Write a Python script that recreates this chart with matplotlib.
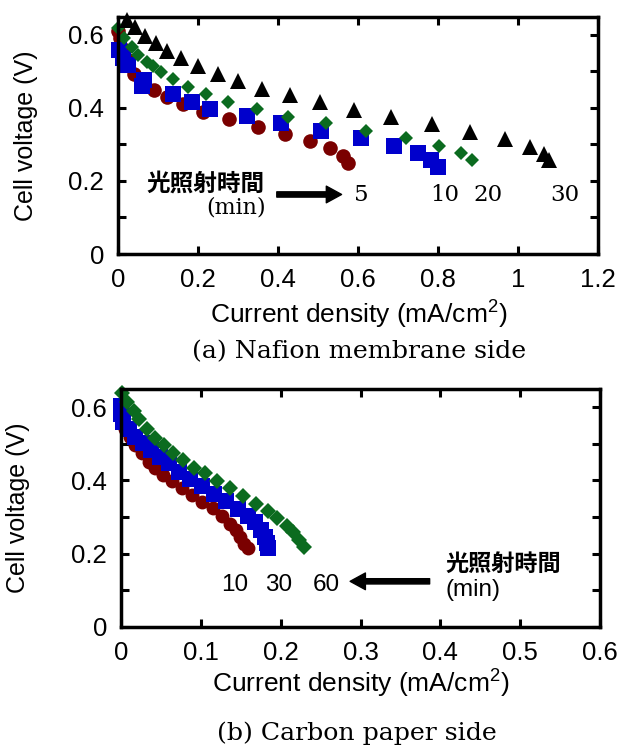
import matplotlib
matplotlib.use('Agg')
import matplotlib.pyplot as plt
from matplotlib.ticker import MultipleLocator, FuncFormatter

plt.rcParams['font.family'] = ['Liberation Sans', 'Noto Sans CJK JP', 'DejaVu Sans']
plt.rcParams['mathtext.fontset'] = 'custom'
plt.rcParams['mathtext.rm'] = 'Liberation Sans'

# (a) Nafion membrane side, irradiation time 5 / 10 / 20 / 30 min
a_x5 = [0.0, 0.004, 0.012, 0.025, 0.041, 0.065, 0.091, 0.122, 0.163, 0.213, 0.2775, 0.349, 0.4175, 0.48, 0.53, 0.562, 0.576]
a_v5 = [0.611, 0.590, 0.562, 0.530, 0.494, 0.468, 0.449, 0.429, 0.410, 0.389, 0.369, 0.348, 0.328, 0.309, 0.289, 0.268, 0.248]
a_x10 = [0.0025, 0.013, 0.026, 0.066, 0.059, 0.137, 0.186, 0.231, 0.322, 0.4075, 0.507, 0.607, 0.691, 0.751, 0.782, 0.801]
a_v10 = [0.558, 0.536, 0.517, 0.476, 0.460, 0.438, 0.417, 0.397, 0.378, 0.358, 0.337, 0.317, 0.296, 0.277, 0.257, 0.237]
a_x20 = [0.0, 0.016, 0.034, 0.051, 0.072, 0.088, 0.1075, 0.138, 0.174, 0.22, 0.274, 0.347, 0.424, 0.52, 0.62, 0.72, 0.8025, 0.8575, 0.886]
a_v20 = [0.618, 0.590, 0.567, 0.545, 0.526, 0.514, 0.499, 0.478, 0.456, 0.438, 0.417, 0.397, 0.376, 0.359, 0.337, 0.317, 0.296, 0.277, 0.257]
a_x30 = [0.022, 0.0425, 0.0675, 0.094, 0.122, 0.1575, 0.199, 0.249, 0.301, 0.359, 0.43, 0.505, 0.59, 0.6825, 0.784, 0.881, 0.968, 1.03, 1.065, 1.077]
a_v30 = [0.640, 0.620, 0.597, 0.577, 0.556, 0.536, 0.5145, 0.494, 0.474, 0.453, 0.434, 0.417, 0.394, 0.376, 0.356, 0.335, 0.315, 0.293, 0.275, 0.257]

# (b) Carbon paper side, irradiation time 10 / 30 / 60 min
b_x10 = [0.0, 0.001, 0.005, 0.011, 0.018, 0.026, 0.035, 0.043, 0.053, 0.064, 0.076, 0.089, 0.102, 0.115, 0.127, 0.137, 0.144, 0.149, 0.154, 0.159]
b_v10 = [0.595, 0.568, 0.541, 0.519, 0.496, 0.474, 0.451, 0.433, 0.415, 0.397, 0.379, 0.360, 0.342, 0.324, 0.303, 0.281, 0.263, 0.245, 0.227, 0.214]
b_x30 = [0.0, 0.0, 0.003, 0.010, 0.018, 0.028, 0.038, 0.049, 0.060, 0.073, 0.087, 0.102, 0.117, 0.132, 0.147, 0.159, 0.168, 0.175, 0.180, 0.183, 0.184]
b_v30 = [0.604, 0.582, 0.559, 0.540, 0.519, 0.501, 0.483, 0.465, 0.447, 0.424, 0.405, 0.384, 0.363, 0.344, 0.321, 0.303, 0.285, 0.264, 0.245, 0.228, 0.216]
b_x60 = [0.001, 0.008, 0.016, 0.023, 0.032, 0.043, 0.054, 0.065, 0.078, 0.091, 0.105, 0.120, 0.137, 0.153, 0.169, 0.184, 0.196, 0.208, 0.216, 0.223, 0.229]
b_v60 = [0.638, 0.613, 0.591, 0.568, 0.541, 0.517, 0.496, 0.476, 0.456, 0.435, 0.420, 0.397, 0.378, 0.357, 0.336, 0.317, 0.297, 0.276, 0.258, 0.237, 0.218]

a_labels = ['5', '10', '20', '30']
a_label_x = [0.609, 0.8175, 0.925, 1.1175]
b_labels = ['10', '30', '60']
b_label_x = [0.143, 0.197, 0.257]

RED = '#7a0000'
BLUE = '#0000cc'
GREEN = '#0b6b1f'
BLACK = '#000000'

fmt = FuncFormatter(lambda v, p: '%g' % round(v, 3))


def style_axes(ax, xmax, xstep):
    ax.set_xlim(0, xmax)
    ax.set_ylim(0, 0.65)
    ax.xaxis.set_major_locator(MultipleLocator(xstep))
    ax.yaxis.set_major_locator(MultipleLocator(0.2))
    ax.yaxis.set_minor_locator(MultipleLocator(0.1))
    ax.xaxis.set_major_formatter(fmt)
    ax.yaxis.set_major_formatter(fmt)
    ax.tick_params(which='both', direction='in', top=True, right=True,
                   length=6, width=2.2, labelsize=18.5, pad=10)
    for s in ax.spines.values():
        s.set_linewidth(2.5)


fig = plt.figure(figsize=(6.19, 7.48), dpi=100)

# ---- (a) ----
ax1 = fig.add_axes([0.1906, 0.6604, 0.7755, 0.3175])
ax1.plot(a_x5, a_v5, 'o', color=RED, ms=10.5, mew=0, clip_on=False)
ax1.plot(a_x10, a_v10, 's', color=BLUE, ms=11, mew=0, clip_on=False)
ax1.plot(a_x20, a_v20, 'D', color=GREEN, ms=7.5, mew=0, clip_on=False)
ax1.plot(a_x30, a_v30, '^', color=BLACK, ms=11.5, mew=0, clip_on=False)
style_axes(ax1, 1.2, 0.2)
ax1.set_xlabel('Current density (mA/cm$^2$)', fontsize=19)
ax1.xaxis.set_label_coords(0.501, -0.2526)
ax1.xaxis.label.set_va('center')
ax1.set_ylabel('Cell voltage (V)', fontsize=18, va='center')
ax1.yaxis.set_label_coords(-0.1906, 0.5)

ax1.text(0.3675, 0.194, '光照射時間', ha='right', va='center', fontsize=17,
         fontweight='bold', family=['Noto Sans CJK JP'])
ax1.text(0.37, 0.126, '(min)', ha='right', va='center', fontsize=16,
         family=['DejaVu Serif'])
ax1.annotate('', xy=(0.559, 0.163), xytext=(0.397, 0.163),
             arrowprops=dict(facecolor='black', edgecolor='black', width=3.8,
                             headwidth=12, headlength=11, shrink=0))
for lab, lx in zip(a_labels, a_label_x):
    ax1.text(lx, 0.161, lab, ha='center', va='center', fontsize=16.5,
             family=['DejaVu Serif'])

fig.text(359.5 / 619, 1 - 352 / 748, '(a) Nafion membrane side', ha='center',
         va='center', fontsize=18.2, family=['DejaVu Serif'])

# ---- (b) ----
ax2 = fig.add_axes([0.1955, 0.1622, 0.7738, 0.3178])
ax2.plot(b_x10, b_v10, 'o', color=RED, ms=10, mew=0, clip_on=False)
ax2.plot(b_x30, b_v30, 's', color=BLUE, ms=11, mew=0, clip_on=False)
ax2.plot(b_x60, b_v60, 'D', color=GREEN, ms=8.5, mew=0, clip_on=False)
style_axes(ax2, 0.6, 0.1)
ax2.set_xlabel('Current density (mA/cm$^2$)', fontsize=19)
ax2.xaxis.set_label_coords(0.5, -0.237)
ax2.xaxis.label.set_va('center')
ax2.set_ylabel('Cell voltage (V)', fontsize=18, va='center')
ax2.yaxis.set_label_coords(-0.215, 0.5)

ax2.text(0.406, 0.170, '光照射時間', ha='left', va='center', fontsize=16.7,
         fontweight='bold', family=['Noto Sans CJK JP'])
ax2.text(0.406, 0.099, '(min)', ha='left', va='center', fontsize=17.5)
ax2.annotate('', xy=(0.287, 0.124), xytext=(0.3866, 0.124),
             arrowprops=dict(facecolor='black', edgecolor='black', width=3.8,
                             headwidth=12, headlength=11, shrink=0))
for lab, lx in zip(b_labels, b_label_x):
    ax2.text(lx, 0.113, lab, ha='center', va='center', fontsize=17.5)

fig.text(357 / 619, 1 - 733 / 748, '(b) Carbon paper side', ha='center',
         va='center', fontsize=18.2, family=['DejaVu Serif'])

fig.savefig('out.png', dpi=100)
